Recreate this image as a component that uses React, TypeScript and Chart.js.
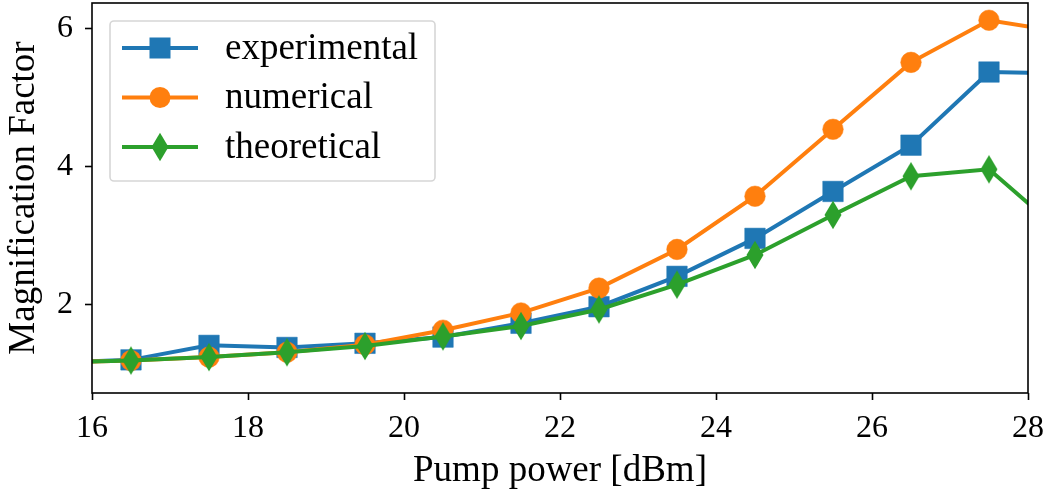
import React, { useEffect, useRef } from "react";
import { Chart, registerables } from "chart.js";

Chart.register(...registerables);

// ---- data ----
const pumpPower = [15.5, 16.5, 17.5, 18.5, 19.5, 20.5, 21.5, 22.5, 23.5, 24.5, 25.5, 26.5, 27.5, 28.5];
const experimental = [1.16, 1.2, 1.41, 1.38, 1.44, 1.53, 1.73, 1.97, 2.41, 2.96, 3.64, 4.31, 5.37, 5.35];
const numerical = [1.16, 1.19, 1.24, 1.31, 1.42, 1.63, 1.88, 2.24, 2.8, 3.57, 4.54, 5.51, 6.12, 5.94];
const theoretical = [1.16, 1.19, 1.24, 1.31, 1.4, 1.54, 1.69, 1.93, 2.29, 2.72, 3.3, 3.86, 3.96, 2.98];
const xTicks = [16, 18, 20, 22, 24, 26, 28];
const yTicks = [2, 4, 6];
const seriesLabels = ["experimental", "numerical", "theoretical"];

const BLUE = "#1f77b4";
const ORANGE = "#ff7f0e";
const GREEN = "#2ca02c";
const FONT = "'Liberation Serif', 'Times New Roman', serif";

function makeDiamond(color: string): HTMLCanvasElement {
  const c = document.createElement("canvas");
  c.width = 20;
  c.height = 32;
  const ctx = c.getContext("2d")!;
  ctx.fillStyle = color;
  ctx.beginPath();
  ctx.moveTo(10, 16 - 14.2);
  ctx.lineTo(10 + 8.5, 16);
  ctx.lineTo(10, 16 + 14.2);
  ctx.lineTo(10 - 8.5, 16);
  ctx.closePath();
  ctx.fill();
  return c;
}

const zeroPad = (s: any) => {
  s.paddingTop = 0;
  s.paddingBottom = 0;
  s.paddingLeft = 0;
  s.paddingRight = 0;
};

export default function App() {
  const ref = useRef<HTMLCanvasElement | null>(null);

  useEffect(() => {
    document.body.style.margin = "0";
    const canvas = ref.current;
    if (!canvas) return;
    const diamond = makeDiamond(GREEN);

    const framePlugin = {
      id: "frameAndLegend",
      afterDraw(chart: any) {
        const { ctx, chartArea } = chart;
        const { left, right, top, bottom } = chartArea;
        ctx.save();
        // spines
        ctx.strokeStyle = "#000";
        ctx.lineWidth = 1.6;
        ctx.strokeRect(left, top, right - left, bottom - top);

        // legend box
        const bx = 110, by = 21, bw = 325, bh = 160, r = 4;
        ctx.beginPath();
        ctx.moveTo(bx + r, by);
        ctx.lineTo(bx + bw - r, by);
        ctx.arcTo(bx + bw, by, bx + bw, by + r, r);
        ctx.lineTo(bx + bw, by + bh - r);
        ctx.arcTo(bx + bw, by + bh, bx + bw - r, by + bh, r);
        ctx.lineTo(bx + r, by + bh);
        ctx.arcTo(bx, by + bh, bx, by + bh - r, r);
        ctx.lineTo(bx, by + r);
        ctx.arcTo(bx, by, bx + r, by, r);
        ctx.closePath();
        ctx.fillStyle = "rgba(255,255,255,0.8)";
        ctx.fill();
        ctx.strokeStyle = "#d6d6d6";
        ctx.lineWidth = 1.6;
        ctx.stroke();

        const rows = [48, 97.5, 147];
        const colors = [BLUE, ORANGE, GREEN];
        for (let i = 0; i < 3; i++) {
          const y = rows[i];
          ctx.strokeStyle = colors[i];
          ctx.lineWidth = 4;
          ctx.beginPath();
          ctx.moveTo(122, y);
          ctx.lineTo(198, y);
          ctx.stroke();
          ctx.fillStyle = colors[i];
          if (i === 0) {
            ctx.fillRect(160 - 10.5, y - 10.5, 21, 21);
          } else if (i === 1) {
            ctx.beginPath();
            ctx.arc(160, y, 10.5, 0, Math.PI * 2);
            ctx.fill();
          } else {
            ctx.drawImage(diamond, 160 - diamond.width / 2, y - diamond.height / 2);
          }
          ctx.fillStyle = "#000";
          ctx.font = `37px ${FONT}`;
          ctx.textBaseline = "middle";
          ctx.textAlign = "left";
          ctx.fillText(seriesLabels[i], 225, y + 1);
        }
        ctx.restore();
      },
    };

    const toPts = (ys: number[]) => pumpPower.map((x, i) => ({ x, y: ys[i] }));

    const chart = new Chart(canvas, {
      type: "line",
      data: {
        datasets: [
          {
            label: seriesLabels[0],
            data: toPts(experimental),
            borderColor: BLUE,
            backgroundColor: BLUE,
            pointBackgroundColor: BLUE,
            pointBorderColor: BLUE,
            borderWidth: 4,
            pointStyle: "rect",
            pointRadius: 14.5,
            pointBorderWidth: 0.5,
            order: 3,
            clip: 0,
          },
          {
            label: seriesLabels[1],
            data: toPts(numerical),
            borderColor: ORANGE,
            backgroundColor: ORANGE,
            pointBackgroundColor: ORANGE,
            pointBorderColor: ORANGE,
            borderWidth: 4,
            pointStyle: "circle",
            pointRadius: 10.3,
            pointBorderWidth: 0.5,
            order: 2,
            clip: 0,
          },
          {
            label: seriesLabels[2],
            data: toPts(theoretical),
            borderColor: GREEN,
            backgroundColor: GREEN,
            borderWidth: 4,
            pointStyle: diamond as any,
            pointRadius: 14,
            order: 1,
            clip: 0,
          },
        ],
      } as any,
      options: {
        responsive: false,
        animation: false,
        events: [],
        layout: { autoPadding: false, padding: { top: 3, right: 20, left: 0, bottom: 0 } },
        plugins: { legend: { display: false }, tooltip: { enabled: false } },
        scales: {
          x: {
            type: "linear",
            min: 16,
            max: 28,
            afterBuildTicks: (s: any) => {
              s.ticks = xTicks.map((v) => ({ value: v }));
            },
            afterFit: (s: any) => {
              s.height = 105;
              zeroPad(s);
            },
            ticks: {
              color: "#000",
              font: { family: FONT, size: 32 },
              padding: 9,
              maxRotation: 0,
              autoSkip: false,
              callback: (v: any) => String(v),
            },
            grid: {
              drawOnChartArea: false,
              drawTicks: true,
              tickLength: 7,
              tickWidth: 1.6,
              color: "#000",
            },
            border: { display: false },
            title: {
              display: true,
              text: "Pump power [dBm]",
              color: "#000",
              font: { family: FONT, size: 37 },
              padding: { top: 0, bottom: 5 },
            },
          },
          y: {
            type: "linear",
            min: 0.72,
            max: 6.37,
            afterBuildTicks: (s: any) => {
              s.ticks = yTicks.map((v) => ({ value: v }));
            },
            afterFit: (s: any) => {
              s.width = 92;
              zeroPad(s);
            },
            ticks: {
              color: "#000",
              font: { family: FONT, size: 32 },
              padding: 12,
              autoSkip: false,
              callback: (v: any) => String(v),
            },
            grid: {
              drawOnChartArea: false,
              drawTicks: true,
              tickLength: 7,
              tickWidth: 1.6,
              color: "#000",
            },
            border: { display: false },
            title: {
              display: true,
              text: "Magnification Factor",
              color: "#000",
              font: { family: FONT, size: 37 },
              padding: { top: 2, bottom: 4 },
            },
          },
        },
      },
      plugins: [framePlugin],
    } as any);

    return () => chart.destroy();
  }, []);

  return (
    <div style={{ width: 1048, height: 498, position: "relative" }}>
      <canvas ref={ref} width={1048} height={498} style={{ display: "block", width: 1048, height: 498 }} />
    </div>
  );
}
